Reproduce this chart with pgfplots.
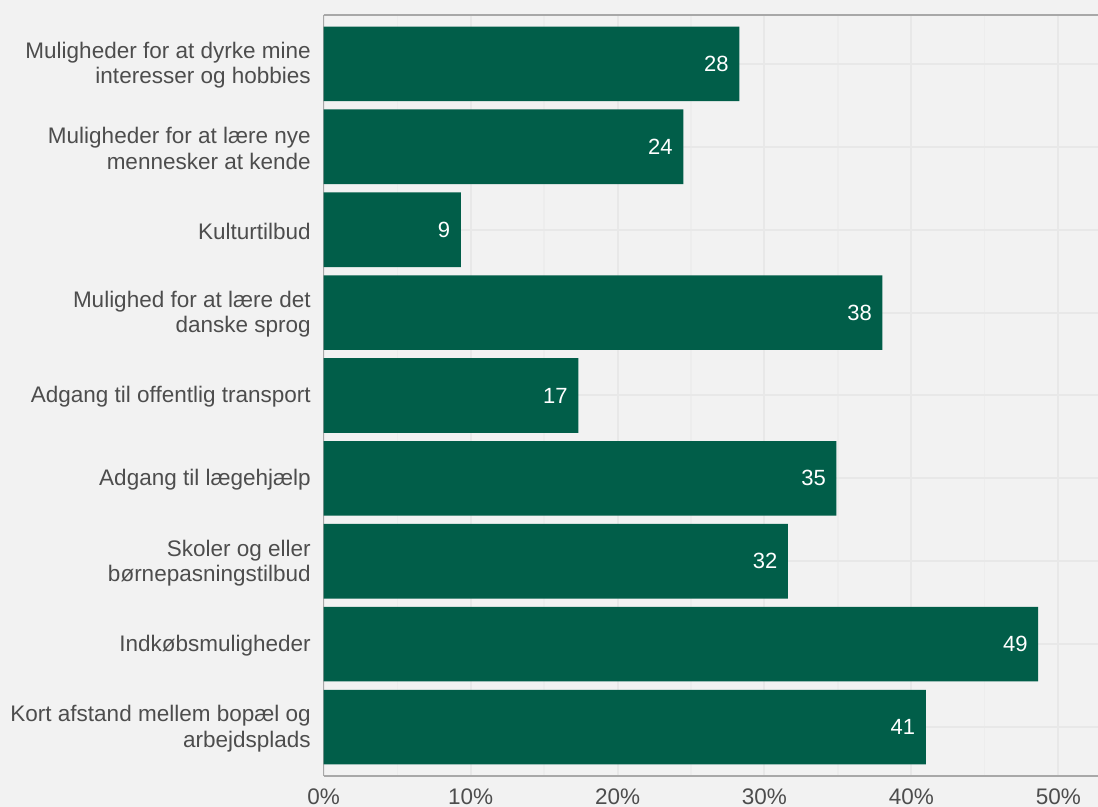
\documentclass[border=0pt]{standalone}
\usepackage{fontspec}
\setmainfont{Liberation Sans}
\usepackage{pgfplots}
\pgfplotsset{compat=1.18}
\definecolor{bg}{HTML}{F2F2F2}
\definecolor{barc}{RGB}{1,94,73}
\definecolor{txt}{HTML}{4D4D4D}
\definecolor{gridmaj}{HTML}{E8E8E8}
\definecolor{gridmin}{HTML}{EDEDED}
\definecolor{axl}{HTML}{A8A8A8}
\begin{document}
\begin{tikzpicture}
\useasboundingbox (-161.85pt,-15.5pt) rectangle (387.15pt,388pt);
\fill[bg] (-161.85pt,-15.5pt) rectangle (387.15pt,388pt);
\begin{axis}[
  scale only axis,
  width=387.15pt, height=380.5pt,
  xmin=0, xmax=52.7,
  ymin=-0.59, ymax=8.59,
  y dir=reverse,
  xbar, bar width=0.9,
  axis x line=box, axis y line=left,
  axis line style={axl, line width=0.6pt, -},
  xtick={0,10,...,50},
  xticklabels={0\%,10\%,20\%,30\%,40\%,50\%},
  minor xtick={5,15,...,45},
  ytick={0,...,8},
  yticklabels={
    {Muligheder for at dyrke mine\\interesser og hobbies},
    {Muligheder for at lære nye\\mennesker at kende},
    {Kulturtilbud},
    {Mulighed for at lære det\\danske sprog},
    {Adgang til offentlig transport},
    {Adgang til lægehjælp},
    {Skoler og eller\\børnepasningstilbud},
    {Indkøbsmuligheder},
    {Kort afstand mellem bopæl og\\arbejdsplads}},
  xmajorgrids, ymajorgrids, xminorgrids,
  major grid style={gridmaj, line width=1pt},
  minor grid style={gridmin, line width=0.6pt},
  major tick length=0pt, minor tick length=0pt,
  tick style={draw=none},
  ticklabel style={font=\fontsize{11.25}{12.6}\selectfont, text=txt},
  yticklabel style={align=right, xshift=-3pt, yshift=-0.8pt},
  xticklabel style={yshift=-3pt},
  nodes near coords,
  point meta=explicit symbolic,
  nodes near coords style={white, anchor=east, xshift=-1.8pt, font=\fontsize{11}{12}\selectfont},
]
\addplot[fill=barc, draw=none] coordinates {
  (28.29,0) [28]
  (24.48,1) [24]
  (9.33,2) [9]
  (38.03,3) [38]
  (17.33,4) [17]
  (34.90,5) [35]
  (31.60,6) [32]
  (48.63,7) [49]
  (40.98,8) [41]
};
\end{axis}
\end{tikzpicture}
\end{document}
